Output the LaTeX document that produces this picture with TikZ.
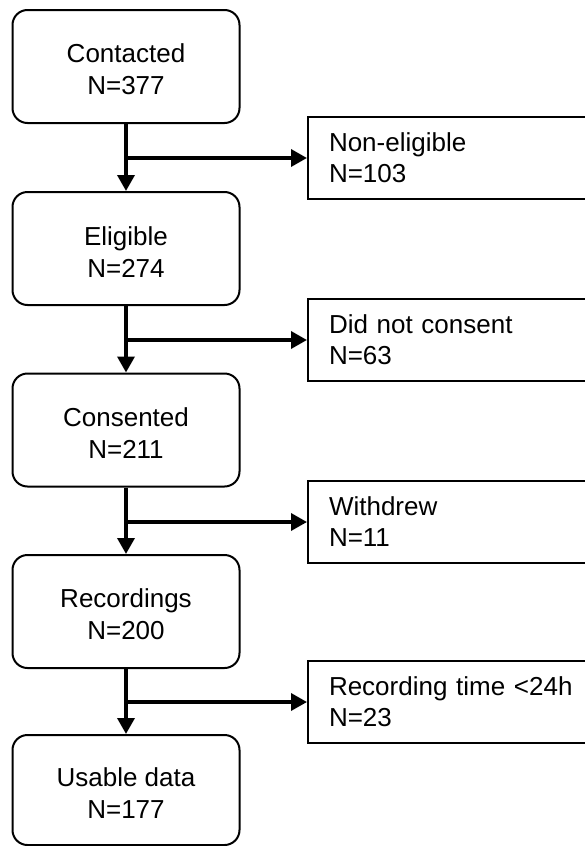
\documentclass[tikz,border=0pt]{standalone}
\usepackage{fontspec}
\setmainfont{Liberation Sans}
\usetikzlibrary{arrows.meta}
\newcommand{\toppad}{\rule{0pt}{25pt}}
\begin{document}
\begin{tikzpicture}[x=1pt,y=-1pt,
  stagebox/.style={draw, line width=2pt, rounded corners=15pt, minimum width=227pt, minimum height=113pt, align=center, font=\fontsize{26}{32}\selectfont, inner sep=0pt},
  exclbox/.style={draw, line width=2pt, minimum width=290pt, minimum height=82pt, anchor=west, align=left, text width=248pt, inner xsep=21pt, inner ysep=0pt, font=\fontsize{26}{31}\selectfont},
  flow/.style={line width=3.5pt, -{Triangle[length=16pt,width=17pt]}}]
\useasboundingbox (0,0) rectangle (585,846);
\clip (0,0) rectangle (585,846);
\node[stagebox] (b1) at (126,66.5) {\toppad Contacted\\N=377};
\node[stagebox] (b2) at (126,248.5) {\toppad Eligible\\N=274};
\node[stagebox] (b3) at (126,430) {\toppad Consented\\N=211};
\node[stagebox] (b4) at (126,611.5) {\toppad Recordings\\N=200};
\node[stagebox, minimum height=110pt] (b5) at (126,790) {\toppad Usable data\\N=177};
\node[exclbox] (r1) at (307,158) {Non-eligible\\N=103};
\node[exclbox] (r2) at (307,340) {Did not consent\\N=63};
\node[exclbox] (r3) at (307,522) {Withdrew\\N=11};
\node[exclbox] (r4) at (307,702) {Recording time <24h\\N=23};
\coordinate (j1) at (126,158);
\coordinate (j2) at (126,340);
\coordinate (j3) at (126,522);
\coordinate (j4) at (126,702);
\draw[flow] (b1.south) -- (b2.north);
\draw[flow] (b2.south) -- (b3.north);
\draw[flow] (b3.south) -- (b4.north);
\draw[flow] (b4.south) -- (b5.north);
\draw[flow] (j1) -- (r1.west);
\draw[flow] (j2) -- (r2.west);
\draw[flow] (j3) -- (r3.west);
\draw[flow] (j4) -- (r4.west);
\end{tikzpicture}
\end{document}
